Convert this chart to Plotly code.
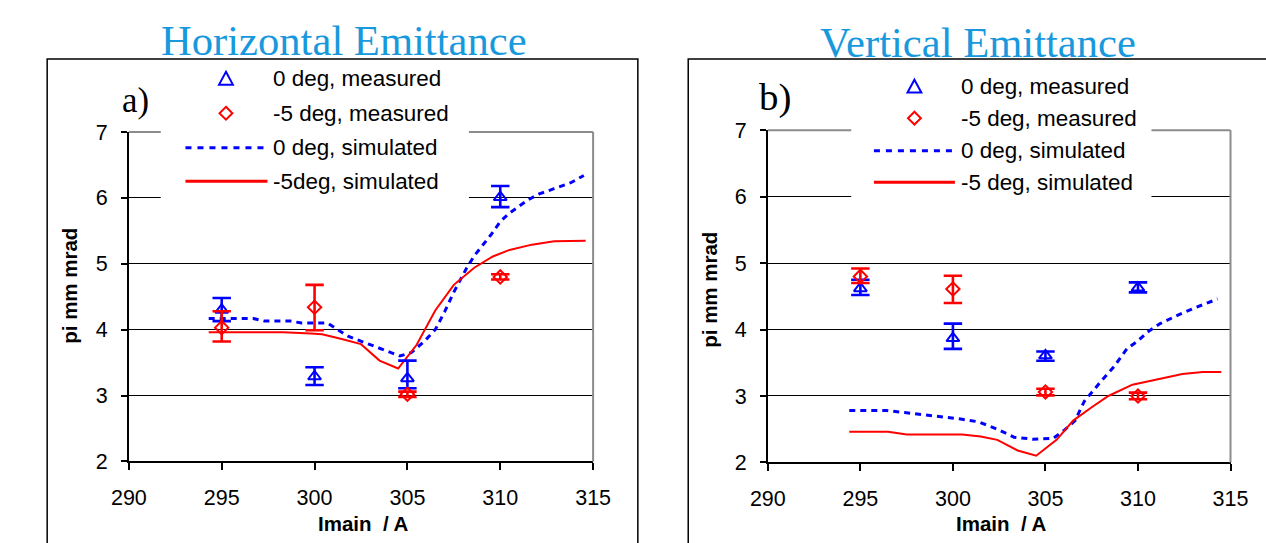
import plotly.graph_objects as go

# Measured page -> picture mapping of this renderer (page px -> picture px):
#   X = AX * page_x + BX,  Y = AY * page_y + BY ; the body keeps an 8px margin.
AX, BX = 0.9836, 1.6
AY, BY = 0.969, 0.6
PAD = 8
W, H = 1266, 543          # figure size in page pixels
FS = 1.0 / ((AX + AY) / 2)  # size compensation for fonts / markers

# ---------------- data ----------------
meas_x = [295, 300, 305, 310]
tick_x = [290, 295, 300, 305, 310, 315]
tick_y = [2, 3, 4, 5, 6, 7]

# Horizontal emittance
h0_meas = [4.30, 3.29, 3.26, 6.01]
h0_err_plus = [0.18, 0.14, 0.27, 0.17]
h0_err_minus = [0.17, 0.13, 0.15, 0.15]
h5_meas = [4.03, 4.34, 3.02, 4.80]
h5_err_plus = [0.25, 0.34, 0.04, 0.04]
h5_err_minus = [0.21, 0.35, 0.04, 0.04]

h0_sim_x = [294.3, 296.7, 297.3, 298.7, 299.3, 300.7, 301.8, 303.4, 304.6, 305.2, 305.9,
            306.5, 307.0, 307.5, 308.2, 308.6, 309.5, 310.0, 310.5, 311.5, 312.1, 312.9,
            313.8, 314.5]
h0_sim_y = [4.17, 4.17, 4.13, 4.13, 4.10, 4.10, 3.90, 3.73, 3.60, 3.65, 3.82,
            4.00, 4.27, 4.57, 4.94, 5.12, 5.44, 5.64, 5.77, 5.97, 6.06, 6.14,
            6.23, 6.34]
h5_sim_x = [294.3, 298.3, 299.8, 300.4, 301.3, 302.5, 303.5, 304.5, 305.5, 306.5,
            307.5, 308.6, 309.6, 310.5, 311.7, 312.9, 314.6]
h5_sim_y = [3.96, 3.96, 3.94, 3.93, 3.87, 3.78, 3.53, 3.41, 3.77, 4.29,
            4.68, 4.94, 5.11, 5.21, 5.29, 5.34, 5.35]

# Vertical emittance
v0_meas = [4.62, 3.87, 3.61, 4.63]
v0_err_plus = [0.13, 0.22, 0.06, 0.08]
v0_err_minus = [0.10, 0.16, 0.08, 0.07]
v5_meas = [4.80, 4.61, 3.06, 3.00]
v5_err_plus = [0.12, 0.20, 0.05, 0.05]
v5_err_minus = [0.10, 0.21, 0.05, 0.05]

v0_sim_x = [294.4, 296.4, 297.4, 298.4, 299.4, 300.5, 301.4, 302.4, 303.3, 304.3,
            305.4, 306.0, 306.6, 307.1, 308.0, 308.7, 309.4, 310.0, 310.5, 311.2,
            312.1, 313.1, 314.3]
v0_sim_y = [2.78, 2.78, 2.75, 2.72, 2.69, 2.65, 2.61, 2.50, 2.38, 2.35,
            2.36, 2.48, 2.63, 2.92, 3.22, 3.44, 3.71, 3.83, 3.96, 4.09,
            4.21, 4.33, 4.46]
v5_sim_x = [294.4, 296.5, 297.5, 300.5, 301.5, 302.4, 303.5, 304.5, 305.6, 306.5,
            307.5, 308.4, 309.7, 310.9, 312.4, 313.5, 314.5]
v5_sim_y = [2.46, 2.46, 2.42, 2.42, 2.39, 2.34, 2.18, 2.10, 2.34, 2.63,
            2.83, 3.00, 3.17, 3.24, 3.33, 3.36, 3.36]

titles = ["Horizontal Emittance", "Vertical Emittance"]
panel_tags = ["a)", "b)"]
legend_left = ["0 deg, measured", "-5 deg, measured", "0 deg, simulated", "-5deg, simulated"]
legend_right = ["0 deg, measured", "-5 deg, measured", "0 deg, simulated", "-5 deg, simulated"]
y_title = "pi mm mrad"
x_title = "Imain  / A"

BLUE = "#0000FF"
RED = "#FF0000"
TITLE_BLUE = "#1899DD"
SANS = "Liberation Sans, Arial, sans-serif"
SERIF = "Liberation Serif, Times New Roman, serif"


def fx(X):
    """picture x pixel -> paper fraction"""
    return ((X - BX) / AX - PAD) / W


def fy(Y):
    """picture y pixel -> paper fraction"""
    return 1 - ((Y - BY) / AY - PAD) / H


def fs(v):
    return round(v * FS, 2)


fig = go.Figure()


def add_panel(xa, ya, s0x, s0y, s5x, s5y, m0, m0p, m0m, m5, m5p, m5m):
    fig.add_trace(go.Scatter(x=s0x, y=s0y, mode="lines", xaxis=xa, yaxis=ya,
                             line=dict(color=BLUE, width=3, dash="6px,5px"),
                             hoverinfo="skip"))
    fig.add_trace(go.Scatter(x=s5x, y=s5y, mode="lines", xaxis=xa, yaxis=ya,
                             line=dict(color=RED, width=2), hoverinfo="skip"))
    fig.add_trace(go.Scatter(x=meas_x, y=m0, mode="markers", xaxis=xa, yaxis=ya,
                             marker=dict(symbol="triangle-up-open", size=fs(11), color=BLUE,
                                         line=dict(width=2, color=BLUE)),
                             error_y=dict(type="data", symmetric=False, array=m0p,
                                          arrayminus=m0m, color=BLUE, thickness=2.6,
                                          width=fs(9))))
    fig.add_trace(go.Scatter(x=meas_x, y=m5, mode="markers", xaxis=xa, yaxis=ya,
                             marker=dict(symbol="diamond-open", size=fs(10), color=RED,
                                         line=dict(width=2, color=RED)),
                             error_y=dict(type="data", symmetric=False, array=m5p,
                                          arrayminus=m5m, color=RED, thickness=2.6,
                                          width=fs(9))))


add_panel("x", "y", h0_sim_x, h0_sim_y, h5_sim_x, h5_sim_y,
          h0_meas, h0_err_plus, h0_err_minus, h5_meas, h5_err_plus, h5_err_minus)
add_panel("x2", "y2", v0_sim_x, v0_sim_y, v5_sim_x, v5_sim_y,
          v0_meas, v0_err_plus, v0_err_minus, v5_meas, v5_err_plus, v5_err_minus)

xax = dict(range=[290, 315], tickvals=tick_x, ticks="outside", ticklen=7, tickwidth=1.5,
           tickcolor="black", showline=True, linecolor="black", linewidth=2,
           showgrid=False, zeroline=False, tickfont=dict(family=SANS, size=fs(21), color="black"),
           ticklabelstandoff=9, fixedrange=True)
yax = dict(range=[2, 7], tickvals=tick_y, ticks="outside", ticklen=6, tickwidth=1.5,
           tickcolor="black", showline=True, linecolor="black", linewidth=1.5,
           showgrid=True, gridcolor="black", gridwidth=1, zeroline=False,
           tickfont=dict(family=SANS, size=fs(21), color="black"), ticklabelstandoff=9,
           fixedrange=True)

# picture-pixel geometry of the two plot areas
L = dict(x0=121.7, x1=591.7, y0=131, y1=465)
R = dict(x0=768.6, x1=1237, y0=129.3, y1=466)

fig.update_layout(
    width=W, height=H, margin=dict(l=0, r=0, t=0, b=0),
    paper_bgcolor="white", plot_bgcolor="white", showlegend=False,
    xaxis=dict(xax, domain=[fx(L["x0"]), fx(L["x1"])], anchor="y"),
    yaxis=dict(yax, domain=[fy(L["y1"]), fy(L["y0"])], anchor="x"),
    xaxis2=dict(xax, domain=[fx(R["x0"]), fx(R["x1"])], anchor="y2"),
    yaxis2=dict(yax, domain=[fy(R["y1"]), fy(R["y0"])], anchor="x2"),
)

shapes = []
anns = []

# outer frames
shapes.append(dict(type="rect", xref="paper", yref="paper", x0=fx(39), x1=fx(637),
                    y0=fy(620), y1=fy(57), line=dict(color="black", width=1.5), layer="above"))
shapes.append(dict(type="rect", xref="paper", yref="paper", x0=fx(688), x1=fx(1340),
                    y0=fy(620), y1=fy(57), line=dict(color="black", width=1.5), layer="above"))

# gray plot-area border (top and right)
for xr, yr in (("x domain", "y domain"), ("x2 domain", "y2 domain")):
    shapes.append(dict(type="line", xref=xr, yref=yr, x0=0, x1=1, y0=1, y1=1,
                       line=dict(color="#8c8c8c", width=2), layer="above"))
    shapes.append(dict(type="line", xref=xr, yref=yr, x0=1, x1=1, y0=0, y1=1,
                       line=dict(color="#8c8c8c", width=2), layer="above"))


def legend_block(box_x0, box_x1, box_y0, box_y1, mark_cx, line_x0, line_x1, text_x, rows, labels):
    shapes.append(dict(type="rect", xref="paper", yref="paper", x0=fx(box_x0), x1=fx(box_x1),
                       y0=fy(box_y1), y1=fy(box_y0), fillcolor="white",
                       line=dict(width=0), layer="above"))
    cy = rows[0]
    tri = "M{} {} L{} {} L{} {} Z".format(fx(mark_cx), fy(cy - 7), fx(mark_cx + 7), fy(cy + 6),
                                         fx(mark_cx - 7), fy(cy + 6))
    shapes.append(dict(type="path", xref="paper", yref="paper", path=tri,
                       line=dict(color=BLUE, width=2), layer="above"))
    cy = rows[1]
    dia = "M{} {} L{} {} L{} {} L{} {} Z".format(fx(mark_cx), fy(cy - 6.5), fx(mark_cx + 6.5), fy(cy),
                                                 fx(mark_cx), fy(cy + 6.5), fx(mark_cx - 6.5), fy(cy))
    shapes.append(dict(type="path", xref="paper", yref="paper", path=dia,
                       line=dict(color=RED, width=2), layer="above"))
    shapes.append(dict(type="line", xref="paper", yref="paper", x0=fx(line_x0), x1=fx(line_x1),
                       y0=fy(rows[2]), y1=fy(rows[2]),
                       line=dict(color=BLUE, width=3, dash="6px,6px"), layer="above"))
    shapes.append(dict(type="line", xref="paper", yref="paper", x0=fx(line_x0), x1=fx(line_x1 + 3),
                       y0=fy(rows[3]), y1=fy(rows[3]),
                       line=dict(color=RED, width=3), layer="above"))
    for lab, ry in zip(labels, rows):
        anns.append(dict(text=lab, xref="paper", yref="paper", x=fx(text_x), y=fy(ry),
                         xanchor="left", yanchor="middle", showarrow=False,
                         font=dict(family=SANS, size=fs(21.9), color="black")))


legend_block(154, 466, 60, 202, 220, 179, 259, 266, [77, 112, 147, 181], legend_left)
legend_block(853, 1157, 62, 203, 917, 876, 955, 962, [85, 117, 150, 182], legend_right)

# titles
anns.append(dict(text=titles[0], xref="paper", yref="paper", x=fx(340), y=fy(38),
                 xanchor="center", yanchor="middle", showarrow=False,
                 font=dict(family=SERIF, size=fs(41.6), color=TITLE_BLUE)))
anns.append(dict(text=titles[1], xref="paper", yref="paper", x=fx(981), y=fy(40),
                 xanchor="center", yanchor="middle", showarrow=False,
                 font=dict(family=SERIF, size=fs(41.6), color=TITLE_BLUE)))
# panel tags
anns.append(dict(text=panel_tags[0], xref="paper", yref="paper", x=fx(128), y=fy(99),
                 xanchor="center", yanchor="middle", showarrow=False,
                 font=dict(family=SERIF, size=fs(34), color="black")))
anns.append(dict(text=panel_tags[1], xref="paper", yref="paper", x=fx(776), y=fy(96),
                 xanchor="center", yanchor="middle", showarrow=False,
                 font=dict(family=SERIF, size=fs(38), color="black")))
# axis titles
for cx, cy in ((62, 287), (710, 291)):
    anns.append(dict(text="<b>" + y_title + "</b>", xref="paper", yref="paper", x=fx(cx), y=fy(cy),
                     xanchor="center", yanchor="middle", textangle=-90, showarrow=False,
                     font=dict(family=SANS, size=fs(20), color="black")))
for cx, cy in ((359, 528), (1005, 528)):
    anns.append(dict(text="<b>" + x_title + "</b>", xref="paper", yref="paper", x=fx(cx), y=fy(cy),
                     xanchor="center", yanchor="middle", showarrow=False,
                     font=dict(family=SANS, size=fs(20), color="black")))

fig.update_layout(shapes=shapes, annotations=anns)
fig.write_html("out.html")
